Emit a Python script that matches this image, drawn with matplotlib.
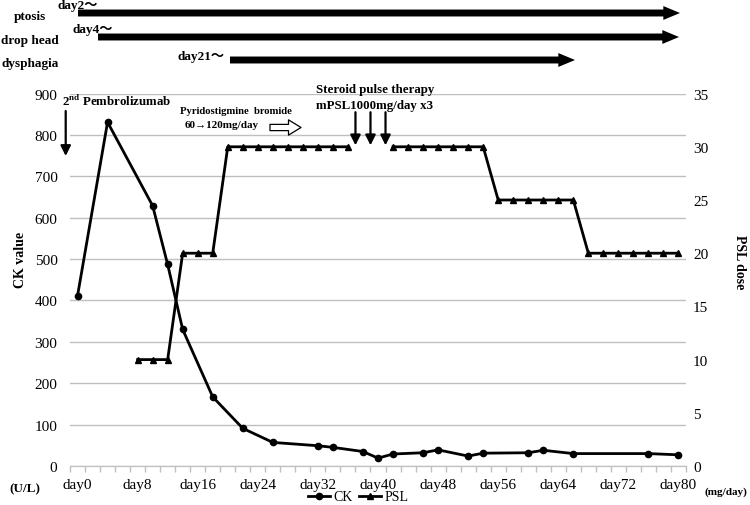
import numpy as np
import matplotlib
matplotlib.use("Agg")
import matplotlib.pyplot as plt
from matplotlib.patches import FancyArrowPatch
from matplotlib.lines import Line2D

plt.rcParams['font.family'] = ['Liberation Serif', 'Noto Sans CJK JP']
plt.rcParams['mathtext.fontset'] = 'custom'
plt.rcParams['mathtext.rm'] = 'Liberation Serif'
plt.rcParams['mathtext.bf'] = 'Liberation Serif:bold'

# CK values (U/L)
ck_days = [0, 4, 10, 12, 14, 18, 22, 26, 32, 34, 38, 40, 42, 46, 48, 52, 54, 60, 62, 66, 76, 80]
ck_vals = [411, 831, 629, 487, 330, 167, 91, 57, 49, 45, 35, 19, 29, 32, 39, 24, 31, 32, 38, 30, 30, 27]

# PSL dose (mg/day), gap during steroid pulse
psl_days = [8, 10, 12, 14, 16, 18, 20, 22, 24, 26, 28, 30, 32, 34, 36, 38, 40,
            42, 44, 46, 48, 50, 52, 54, 56, 58, 60, 62, 64, 66,
            68, 70, 72, 74, 76, 78, 80]
psl_vals = [10, 10, 10, 20, 20, 20, 30, 30, 30, 30, 30, 30, 30, 30, 30, np.nan, np.nan,
            30, 30, 30, 30, 30, 30, 30, 25, 25, 25, 25, 25, 25,
            20, 20, 20, 20, 20, 20, 20]

pulse_days = [37, 39, 41]
xlabel_days = list(range(0, 81, 8))
ck_ticks = list(range(0, 901, 100))
psl_ticks = list(range(0, 36, 5))

# symptom bars: label, start text, start px, end px, y px
symptoms = [("ptosis", "day2～", 78, 680, 14),
            ("drop head", "day4～", 98, 679, 38),
            ("dysphagia", "day21～", 230, 575, 61)]

W, H = 750, 506


def px(x, y):
    return (x / W, 1 - y / H)


fig = plt.figure(figsize=(W / 100, H / 100), dpi=100)
ax = fig.add_axes([70 / W, 1 - 467 / H, (686 - 70) / W, (467 - 94.6) / H])
ax2 = ax.twinx()

ax.plot(ck_days, ck_vals, color='k', lw=2, marker='o', ms=4.5, zorder=3)
ax2.plot(psl_days, psl_vals, color='k', lw=2, marker='^', ms=4.5, zorder=3)

ax.set_xlim(-1, 81)
ax.set_ylim(0, 900)
ax2.set_ylim(0, 35)

ax.set_xticks(xlabel_days)
ax.set_xticklabels(["day{}".format(d) for d in xlabel_days], fontsize=11)
ax.set_xticks(np.arange(-1, 82, 2), minor=True)
ax.tick_params(axis='x', which='major', length=0, pad=9)
ax.tick_params(axis='x', which='minor', length=4, color='#bfbfbf', width=1)

ax.set_yticks(ck_ticks)
ax.tick_params(axis='y', length=0, pad=9, labelsize=11)
ax2.set_yticks(psl_ticks)
ax2.tick_params(axis='y', length=0, pad=5, labelsize=11)

ax.grid(axis='y', color='#bfbfbf', lw=1)
ax.set_axisbelow(True)
for a in (ax, ax2):
    for s in ('top', 'left', 'right'):
        a.spines[s].set_visible(False)
    a.spines['bottom'].set_color('#bfbfbf')

# axis titles and units
fig.text(*px(20, 260), "CK value", rotation=90, ha='center', va='center',
         fontsize=10, fontweight='bold')
fig.text(*px(740, 262), "PSL dose", rotation=270, ha='center', va='center',
         fontsize=10, fontweight='bold')
fig.text(*px(25, 489), "(U/L)", ha='center', va='center', fontsize=9.5, fontweight='bold')
fig.text(*px(726, 492), "(mg/day)", ha='center', va='center', fontsize=8, fontweight='bold')

# annotations
fig.text(*px(62, 101), r"2$^{\bf nd}$ Pembrolizumab", ha='left', va='center',
         fontsize=9.3, fontweight='bold')
fig.add_artist(FancyArrowPatch(px(65.7, 112), px(65.7, 157), transform=fig.transFigure,
                               arrowstyle='-|>,head_length=0.6,head_width=0.3',
                               mutation_scale=10, lw=1.6, color='k', shrinkA=0, shrinkB=0))

fig.text(*px(236, 112), "Pyridostigmine  bromide", ha='center', va='center',
         fontsize=7.7, fontweight='bold')
fig.text(*px(222, 126), "60→120mg/day", ha='center', va='center',
         fontsize=8, fontweight='bold')
fig.add_artist(FancyArrowPatch(px(270, 128.5), px(301, 128.5), transform=fig.transFigure,
                               arrowstyle='simple,head_width=1.1,head_length=0.9,tail_width=0.45',
                               mutation_scale=10, lw=0.9, ec='k', fc='white',
                               shrinkA=0, shrinkB=0))

fig.text(*px(375, 90), "Steroid pulse therapy", ha='center', va='center',
         fontsize=9.3, fontweight='bold')
fig.text(*px(375, 106), "mPSL1000mg/day x3", ha='center', va='center',
         fontsize=9.3, fontweight='bold')
for d in pulse_days:
    ax.annotate('', xy=(d, 775), xytext=(d, 855), annotation_clip=False,
                arrowprops=dict(arrowstyle='-|>,head_length=0.6,head_width=0.3',
                                mutation_scale=10, lw=1.6, color='k',
                                shrinkA=0, shrinkB=0))

# symptom arrows at the top
for name, start, x0, x1, y in symptoms:
    fig.text(*px(30, y + 3), name, ha='center', va='center', fontsize=9.5, fontweight='bold')
    fig.add_artist(FancyArrowPatch(px(x0, y), px(x1, y), transform=fig.transFigure,
                                   arrowstyle='simple,head_width=1.0,head_length=1.2,tail_width=0.5',
                                   mutation_scale=10, lw=0, color='k',
                                   shrinkA=0, shrinkB=0))
lbl_pos = [(78, 6), (93, 30), (201, 57)]
for (name, start, x0, x1, y), (lx, ly) in zip(symptoms, lbl_pos):
    fig.text(*px(lx, ly), start, ha='center', va='center', fontsize=9.5, fontweight='bold')

# legend
handles = [Line2D([], [], color='k', lw=2, marker='o', ms=4.5),
           Line2D([], [], color='k', lw=2, marker='^', ms=4.5)]
fig.legend(handles, ["CK", "PSL"], loc='center', bbox_to_anchor=px(358, 498), ncol=2,
           frameon=False, handlelength=1.6, columnspacing=0.5, handletextpad=0.2,
           fontsize=10, borderpad=0, borderaxespad=0)

fig.savefig("out.png", dpi=100)
